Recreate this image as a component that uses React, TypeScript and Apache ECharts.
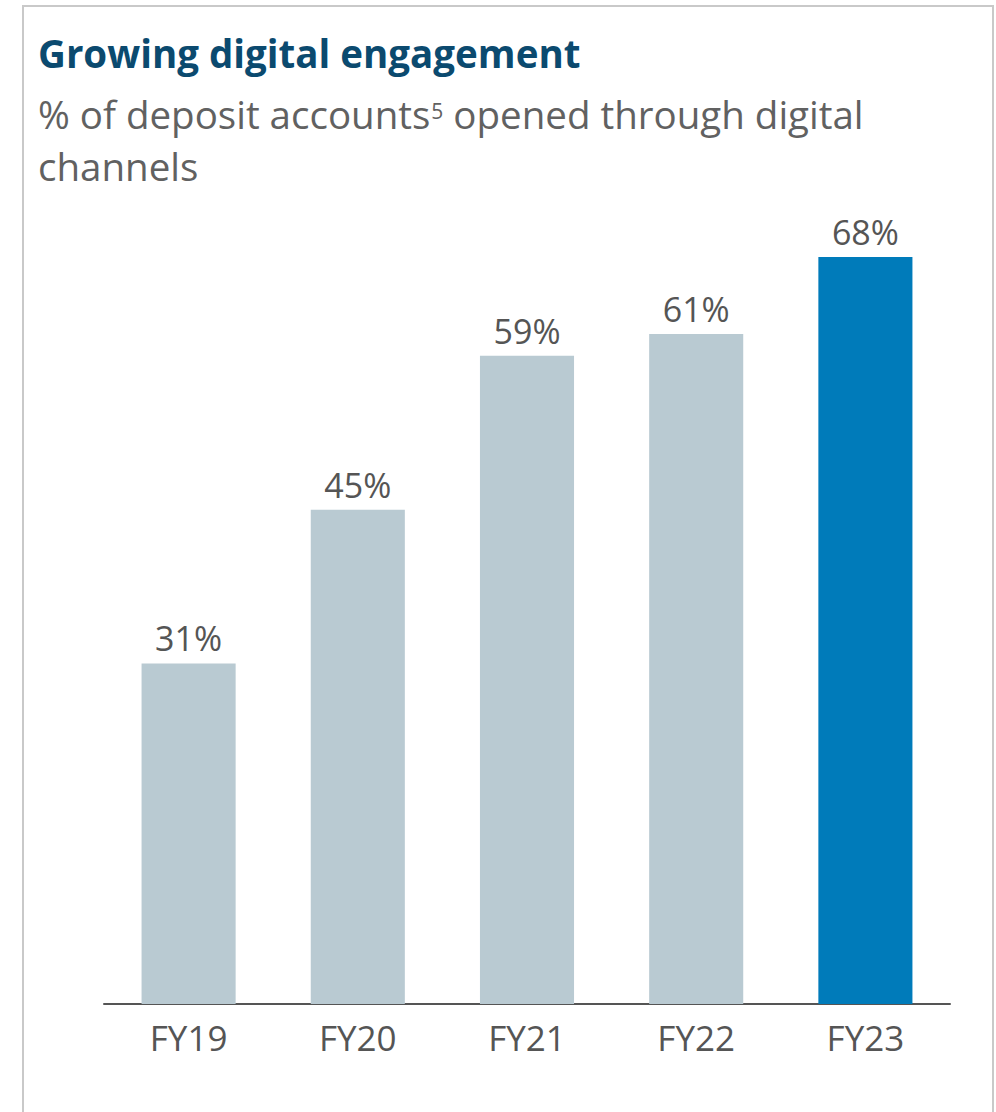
import React, { useEffect, useRef } from "react";
import * as echarts from "echarts";

const categories = ["FY19", "FY20", "FY21", "FY22", "FY23"];
const values = [31, 45, 59, 61, 68];
const highlightIndex = 4;
const titleText = "Growing digital engagement";
const subtitleText = "% of deposit accounts{sup|5} opened through digital\nchannels";

export default function App() {
  const ref = useRef<HTMLDivElement>(null);
  useEffect(() => {
    if (!ref.current) return;
    const chart = echarts.init(ref.current, null, { renderer: "svg" });
    const font = "'Open Sans', 'Noto Sans', sans-serif";
    chart.setOption({
      animation: false,
      backgroundColor: "#ffffff",
      textStyle: { fontFamily: font },
      graphic: [
        {
          type: "rect",
          shape: { x: 23, y: 6, width: 970, height: 1200 },
          style: { fill: "none", stroke: "#c9c9c9", lineWidth: 2 },
          silent: true,
        },
      ],
      title: [
        {
          text: titleText,
          left: 33,
          top: 28,
          textStyle: { fontFamily: font, fontSize: 38.5, fontWeight: "bold", color: "#0b4a6f" },
        },
        {
          text: subtitleText,
          left: 33,
          top: 83,
          textStyle: {
            fontFamily: font,
            fontSize: 38.5,
            fontWeight: "normal",
            color: "#616161",
            lineHeight: 52,
            rich: {
              sup: {
                fontSize: 21,
                color: "#616161",
                verticalAlign: "top",
                lineHeight: 21,
                padding: [12, 0, 0, 1],
              },
            },
          },
        },
      ],
      grid: { left: 104, right: 46, top: 257, bottom: 108, containLabel: false },
      xAxis: {
        type: "category",
        data: categories,
        axisLine: { show: true, lineStyle: { color: "#555555", width: 2 } },
        axisTick: { show: false },
        axisLabel: { color: "#555555", fontSize: 35, margin: 16, fontFamily: font },
      },
      yAxis: {
        type: "value",
        min: 0,
        max: 68,
        show: false,
        splitLine: { show: false },
      },
      series: [
        {
          type: "bar",
          data: values.map((v, i) => ({
            value: v,
            itemStyle: { color: i === highlightIndex ? "#007bba" : "#b9cad2" },
          })),
          barWidth: "55.6%",
          label: {
            show: true,
            position: "top",
            distance: 8,
            formatter: "{c}%",
            color: "#555555",
            fontSize: 34,
            fontFamily: font,
          },
        },
      ],
    });
    return () => chart.dispose();
  }, []);
  return (
    <div
      ref={ref}
      style={{ position: "absolute", left: 0, top: 0, width: 996, height: 1112 }}
    />
  );
}
